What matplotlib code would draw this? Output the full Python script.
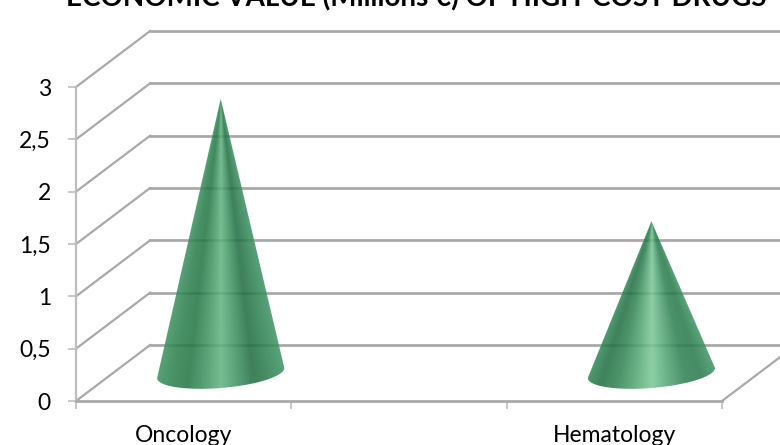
import numpy as np
import matplotlib
matplotlib.use('Agg')
import matplotlib.pyplot as plt
from matplotlib.colors import LinearSegmentedColormap
from matplotlib.patches import PathPatch
from matplotlib.path import Path

# Données du graphique
categories = ['Oncology', '', 'Hematology']
valeurs = [2.62, None, 1.45]
ticks_y = [0, 0.5, 1, 1.5, 2, 2.5, 3]
labels_y = ['0', '0,5', '1', '1,5', '2', '2,5', '3']
titre = 'ECONOMIC VALUE (Millions €) OF HIGH-COST DRUGS'

plt.rcParams['font.family'] = ['Lato', 'DejaVu Sans']

GRIS = '#a9a9a9'
GRIS_AXE = '#bdbdbd'
# Décalage de la profondeur 3D, en unités des axes
DX = 74 / 215
DY = 56 / 104.67

fig = plt.figure(figsize=(7.8, 4.45), dpi=100)
ax = fig.add_axes([76 / 780, 44 / 445, 646 / 780, 314 / 445])
ax.set_xlim(0, 3)
ax.set_ylim(0, 3)

# Grille du fond et arêtes du plancher
for y in ticks_y:
    ax.plot([DX, 3.5], [y + DY, y + DY], color=GRIS, lw=2, clip_on=False, zorder=1)
    ax.plot([0, DX], [y, y + DY], color=GRIS, lw=1.6, clip_on=False, zorder=1)
ax.plot([3, 3 + DX], [0, DY], color=GRIS, lw=1.6, clip_on=False, zorder=1)

# Dégradé conique des cônes
couleurs = {
    0: ['#3f9461', '#2d8050', '#267644', '#3f9262', '#64b381', '#3f9263', '#206d42', '#2f8052', '#3f9465'],
    2: ['#358c5c', '#226f44', '#328454', '#52a573', '#7cc897', '#52a375', '#2f8052', '#297a4c', '#3f9465'],
}
A = 63.5 / 215
B = 15 / 104.67
K = 5 / 104.67

for i, val in enumerate(valeurs):
    if val is None:
        continue
    cx = i + 0.5 + DX / 2
    cy = DY / 2
    sommet = val + DY / 2

    t = np.linspace(0, -np.pi, 60)
    bx = cx + A * np.cos(t)
    by = cy + B * np.sin(t) + K * np.cos(t)
    verts = np.vstack([np.column_stack([bx, by]), [[cx, sommet]], [[bx[0], by[0]]]])
    codes = [Path.MOVETO] + [Path.LINETO] * (len(verts) - 2) + [Path.CLOSEPOLY]
    contour = Path(verts, codes)

    xx, yy = np.meshgrid(np.linspace(cx - A, cx + A, 400), np.linspace(cy - B - K, sommet, 500))
    u = (xx - cx) / (np.maximum(sommet - yy, 1e-3) / (sommet - cy) * A)
    cmap = LinearSegmentedColormap.from_list('cone%d' % i, couleurs[i])
    im = ax.imshow(u, extent=[cx - A, cx + A, cy - B - K, sommet], origin='lower', aspect='auto',
                   cmap=cmap, vmin=-1, vmax=1, alpha=0.87, zorder=3, interpolation='bilinear')
    patch = PathPatch(contour, transform=ax.transData, fc='none', ec='none')
    ax.add_patch(patch)
    im.set_clip_path(patch)

ax.set_xlim(0, 3)
ax.set_ylim(0, 3)

# Axes
for cote in ['top', 'right']:
    ax.spines[cote].set_visible(False)
ax.spines['left'].set_color(GRIS_AXE)
ax.spines['left'].set_linewidth(1.6)
ax.spines['bottom'].set_color(GRIS)
ax.spines['bottom'].set_linewidth(2)
ax.patch.set_alpha(0)

ax.set_yticks(ticks_y)
ax.set_yticklabels(labels_y, fontsize=16.5, color='black')
ax.set_xticks([0, 1, 2, 3])
ax.set_xticklabels([])
ax.set_xticks([0.5, 1.5, 2.5], minor=True)
ax.set_xticklabels(categories, minor=True, fontsize=16.5, color='black')
ax.tick_params(axis='y', length=6, width=1.2, color=GRIS_AXE, pad=12)
ax.tick_params(axis='x', which='major', length=6, width=1.2, color=GRIS_AXE)
ax.tick_params(axis='x', which='minor', length=0, pad=17)

fig.text(416 / 780, 1 + 2 / 445, titre, ha='center', va='center', fontsize=20, fontweight='bold')

fig.savefig('out.png', dpi=100)
